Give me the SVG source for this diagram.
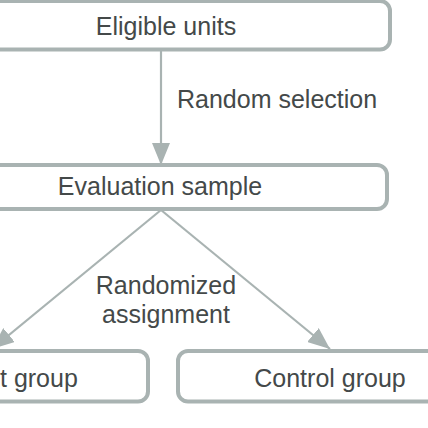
<svg xmlns="http://www.w3.org/2000/svg" width="428" height="428" viewBox="0 0 428 428">
<style>
.box{fill:#ffffff;stroke:#a9b3b2;stroke-width:4}
.t{font-family:"Liberation Sans",Arial,sans-serif;font-size:25px;fill:#444949}
.c{stroke:#a9b3b2;stroke-width:2.2;fill:none}
</style>
<defs>
<marker id="ah" viewBox="0 0 22 18" refX="22" refY="9" markerWidth="22" markerHeight="18" markerUnits="userSpaceOnUse" orient="auto">
<path d="M0,0 L22,9 L0,18 Z" fill="#a9b3b2"/>
</marker>
</defs>
<rect x="0" y="0" width="428" height="428" fill="#ffffff"/>
<g id="connectors">
<line class="c" x1="161" y1="50" x2="161" y2="165" marker-end="url(#ah)"/>
<line class="c" x1="161" y1="210" x2="330" y2="349" marker-end="url(#ah)"/>
<line class="c" x1="161" y1="210" x2="-8" y2="349" marker-end="url(#ah)"/>
<text class="t" x="177" y="108">Random selection</text>
<text class="t" x="166" y="294" text-anchor="middle">Randomized</text>
<text class="t" x="166" y="323" text-anchor="middle">assignment</text>
</g>
<g id="eligible">
<rect class="box" x="-60" y="1" width="450" height="48.5" rx="10"/>
<text class="t" x="166" y="35" text-anchor="middle">Eligible units</text>
</g>
<g id="sample">
<rect class="box" x="-70" y="165" width="457" height="44" rx="10"/>
<text class="t" x="160" y="195" text-anchor="middle">Evaluation sample</text>
</g>
<g id="treatment">
<rect class="box" x="-150" y="351" width="298" height="50.5" rx="10"/>
<text class="t" x="0" y="387">t group</text>
</g>
<g id="control">
<rect class="box" x="178" y="351" width="300" height="50.5" rx="10"/>
<text class="t" x="330" y="387" text-anchor="middle">Control group</text>
</g>
</svg>
